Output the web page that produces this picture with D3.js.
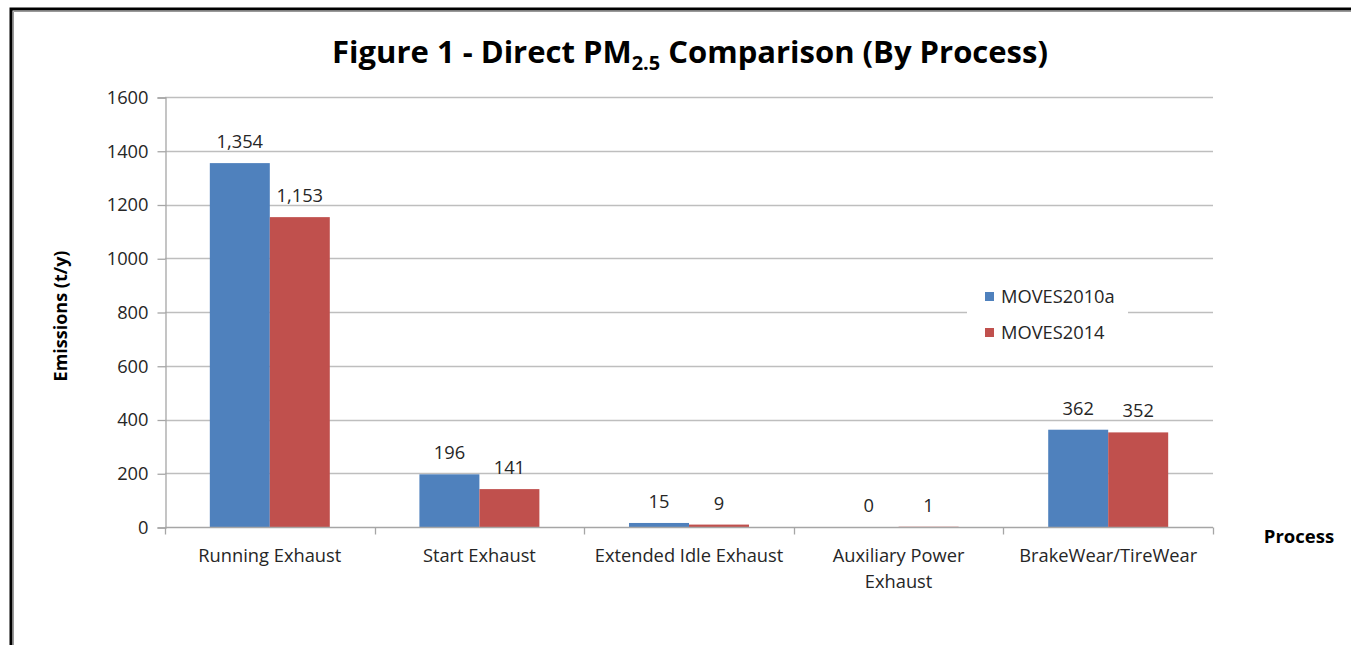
<!DOCTYPE html>
<html>
<head>
<meta charset="utf-8">
<script src="https://cdn.jsdelivr.net/npm/d3@7"></script>
<style>
  body { margin: 0; background: #fff; }
  svg text { font-family: "Open Sans", sans-serif; fill: #262626; }
</style>
</head>
<body>
<div class="svg-target"></div>
<script>
const w = 1351;
const h = 645;

// data
const categories = ['Running Exhaust', 'Start Exhaust', 'Extended Idle Exhaust', 'Auxiliary Power\nExhaust', 'BrakeWear/TireWear'];
const series = ['MOVES2010a', 'MOVES2014'];
const moves2010a = [1354, 196, 15, 0, 362];
const moves2014 = [1153, 141, 9, 1, 352];
const yTicks = [0, 200, 400, 600, 800, 1000, 1200, 1400, 1600];
const colors = ['#4F81BD', '#C0504D'];

const values = [moves2010a, moves2014];

const margin = { left: 165, right: 1213, top: 97, bottom: 527 };
const fontSize = '18.3px';

const svg = d3.select('.svg-target')
    .append('svg')
    .attr('width', w)
    .attr('height', h);

// frame (top + left edges with a soft shadow)
svg.append('path')
    .attr('d', `M11,${h} V9 H${w}`)
    .attr('fill', 'none')
    .attr('stroke', '#000')
    .attr('stroke-width', 3);
svg.append('path')
    .attr('d', `M13.5,${h} V11.5 H${w}`)
    .attr('fill', 'none')
    .attr('stroke', '#999')
    .attr('stroke-width', 1);

// title
const title = svg.append('text')
    .attr('x', 690)
    .attr('y', 63)
    .attr('text-anchor', 'middle')
    .style('font-size', '31px')
    .style('font-weight', 'bold')
    .style('fill', '#000');
title.append('tspan').text('Figure 1 - Direct PM');
title.append('tspan').attr('dy', 7).style('font-size', '20px').text('2.5');
title.append('tspan').attr('dy', -7).text(' Comparison (By Process)');

// scales
const x0 = d3.scaleBand()
    .domain(categories)
    .range([margin.left, margin.right])
    .paddingInner(0)
    .paddingOuter(0);

const x1 = d3.scaleBand()
    .domain(series)
    .range([0, x0.bandwidth()])
    .paddingInner(0)
    .paddingOuter(0.747);

const y = d3.scaleLinear()
    .domain([0, 1600])
    .range([margin.bottom, margin.top]);

// gridlines
svg.append('g')
    .selectAll('line')
    .data(yTicks.slice(1))
    .enter()
    .append('line')
        .attr('x1', margin.left)
        .attr('x2', margin.right)
        .attr('y1', d => Math.round(y(d)) + 0.5)
        .attr('y2', d => Math.round(y(d)) + 0.5)
        .attr('stroke', '#BEBEBE')
        .attr('stroke-width', 1.3);

// y axis
const yAxis = d3.axisLeft(y)
    .tickValues(yTicks)
    .tickSize(8)
    .tickPadding(9)
    .tickFormat(d3.format('d'));

const yg = svg.append('g')
    .attr('transform', `translate(${margin.left + 0.5}, 0.5)`)
    .call(yAxis);
yg.select('.domain').attr('stroke', '#A6A6A6').attr('stroke-width', 1.3);
yg.selectAll('.tick line').attr('stroke', '#A6A6A6').attr('stroke-width', 1.3);
yg.selectAll('.tick text')
    .style('font-size', fontSize)
    .style('font-family', '"Open Sans", sans-serif')
    .attr('fill', '#262626');

// y axis title
svg.append('text')
    .attr('transform', `translate(67, ${(margin.top + margin.bottom) / 2 + 4}) rotate(-90)`)
    .attr('text-anchor', 'middle')
    .style('font-size', '18px')
    .style('font-weight', 'bold')
    .style('fill', '#000')
    .text('Emissions (t/y)');

// bars
const groups = svg.append('g')
    .selectAll('g')
    .data(categories)
    .enter()
    .append('g')
        .attr('transform', d => `translate(${x0(d)}, 0)`);

groups.selectAll('rect')
    .data((d, i) => series.map((s, j) => ({ s, v: values[j][i], c: colors[j] })))
    .enter()
    .append('rect')
        .attr('x', d => x1(d.s))
        .attr('width', x1.bandwidth())
        .attr('y', d => y(d.v))
        .attr('height', d => y(0) - y(d.v))
        .attr('fill', d => d.c);

// data labels
groups.selectAll('.label')
    .data((d, i) => series.map((s, j) => ({ s, v: values[j][i] })))
    .enter()
    .append('text')
        .attr('class', 'label')
        .attr('x', d => x1(d.s) + x1.bandwidth() / 2)
        .attr('y', d => y(d.v) - 15)
        .attr('text-anchor', 'middle')
        .style('font-size', fontSize)
        .text(d => d3.format(',')(d.v));

// x axis
const xAxis = d3.axisBottom(x0)
    .tickSize(0)
    .tickFormat('');

const xg = svg.append('g')
    .attr('transform', `translate(0, ${margin.bottom + 0.5})`)
    .call(xAxis);
xg.select('.domain').remove();
xg.append('line')
    .attr('x1', margin.left)
    .attr('x2', margin.right)
    .attr('stroke', '#A6A6A6')
    .attr('stroke-width', 1.3);

// category boundary ticks
xg.selectAll('.bound')
    .data(categories.map(d => x0(d)).concat([margin.right]))
    .enter()
    .append('line')
        .attr('class', 'bound')
        .attr('x1', d => Math.round(d) + 0.5)
        .attr('x2', d => Math.round(d) + 0.5)
        .attr('y1', 0)
        .attr('y2', 7)
        .attr('stroke', '#A6A6A6')
        .attr('stroke-width', 1.3);

// category labels
xg.selectAll('.cat')
    .data(categories)
    .enter()
    .append('text')
        .attr('class', 'cat')
        .attr('text-anchor', 'middle')
        .style('font-size', fontSize)
        .each(function(d) {
            const t = d3.select(this);
            d.split('\n').forEach((line, i) => {
                t.append('tspan')
                    .attr('x', x0(d) + x0.bandwidth() / 2)
                    .attr('y', 34 + i * 26)
                    .text(line);
            });
        });

// x axis title
svg.append('text')
    .attr('x', 1299)
    .attr('y', 543)
    .attr('text-anchor', 'middle')
    .style('font-size', '18.5px')
    .style('font-weight', 'bold')
    .style('fill', '#000')
    .text('Process');

// legend
const legend = svg.append('g')
    .attr('transform', 'translate(967, 278)');
legend.append('rect')
    .attr('width', 161)
    .attr('height', 76)
    .attr('fill', '#fff');
series.forEach((s, i) => {
    legend.append('rect')
        .attr('x', 18)
        .attr('y', 14 + i * 36)
        .attr('width', 9)
        .attr('height', 9)
        .attr('fill', colors[i]);
    legend.append('text')
        .attr('x', 34)
        .attr('y', 25 + i * 36)
        .style('font-size', fontSize)
        .text(s);
});
</script>
</body>
</html>
